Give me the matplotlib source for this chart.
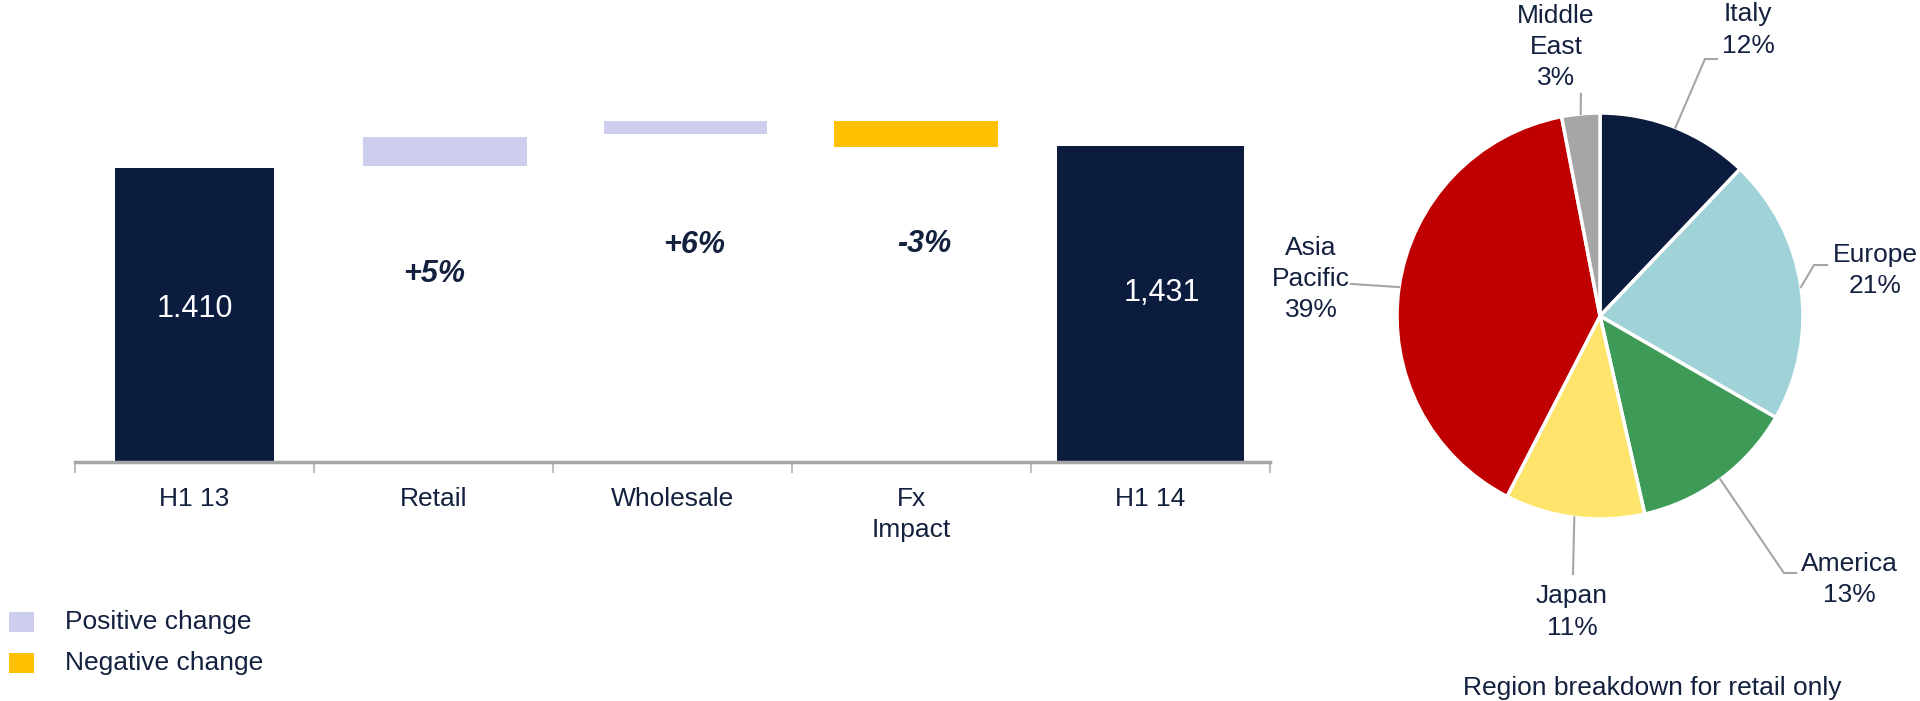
import numpy as np
import matplotlib
matplotlib.use("Agg")
import matplotlib.pyplot as plt
from matplotlib.patches import Rectangle

plt.rcParams['font.family'] = ['Liberation Sans', 'DejaVu Sans']

NAVY = '#0C1C3F'
TEXT = '#13213F'
POS = '#CDCDEE'
NEG = '#FFC000'
GREY = '#A6A6A6'
FS = 19

# waterfall data (axis floor at 1125)
categories = ["H1 13", "Retail", "Wholesale", "Fx\nImpact", "H1 14"]
step_start = [0, 1412, 1443, 1455, 0]
step_end = [1410, 1440, 1455, 1430, 1431]
total_labels = ["1.410", "", "", "", "1,431"]
change_labels = ["", "+5%", "+6%", "-3%", ""]

# pie data
regions = ["Italy", "Europe", "America", "Japan", "Asia\nPacific", "Middle\nEast"]
shares = [12, 21, 13, 11, 39, 3]
region_colors = ['#0C1C3F', '#A0D3D8', '#3E9B57', '#FFE46B', '#C00000', '#A6A6A6']

fig = plt.figure(figsize=(19.2, 7.01), dpi=100)

# ---- waterfall ----
ylo = 1125
ax = fig.add_axes([75 / 1920, 239 / 701, 1195 / 1920, 362 / 701])
x = np.arange(len(categories)) + np.array([0, 0.05, 0.055, 0.02, 0])
widths = [0.665, 0.686, 0.68, 0.686, 0.78]
colors = []
for s, e in zip(step_start, step_end):
    if s == 0:
        colors.append(NAVY)
    elif e >= s:
        colors.append(POS)
    else:
        colors.append(NEG)
bottoms = [min(s, e) for s, e in zip(step_start, step_end)]
heights = [abs(e - s) for s, e in zip(step_start, step_end)]
ax.bar(x, heights, bottom=bottoms, width=widths, color=colors, linewidth=0)

# label offsets in points (layout only)
total_off = [(0, 4), None, None, None, (8, 8)]
change_off = [None, (-8, -78), (6, -80), (6, -70), None]
for i in range(len(categories)):
    if total_labels[i]:
        mid = (ylo + step_end[i]) / 2
        ax.annotate(total_labels[i], (x[i], mid), xytext=total_off[i],
                    textcoords='offset points', ha='center', va='center',
                    color='white', fontsize=22)
    if change_labels[i]:
        ax.annotate(change_labels[i], (x[i], bottoms[i]), xytext=change_off[i],
                    textcoords='offset points', ha='center', va='center',
                    color=TEXT, fontsize=22, fontweight='bold', fontstyle='italic')

ax.set_xlim(-0.5, 4.5)
ax.set_ylim(ylo, ylo + 362 * 0.9684)
ax.set_xticks(np.arange(len(categories)), categories)
ax.set_xticks(np.arange(-0.5, 5, 1), minor=True)
ax.tick_params(axis='x', which='major', length=0, pad=18, labelsize=FS, labelcolor=TEXT)
ax.tick_params(axis='x', which='minor', length=8, width=1.5, color='#BFBFBF')
for lbl in ax.get_xticklabels():
    lbl.set_linespacing(1.375)
ax.set_yticks([])
for side in ['top', 'left', 'right']:
    ax.spines[side].set_visible(False)
ax.spines['bottom'].set_color(GREY)
ax.spines['bottom'].set_linewidth(2.5)

# legend
for yy, col, txt in [(622, POS, "Positive change"), (663, NEG, "Negative change")]:
    fig.add_artist(Rectangle((9 / 1920, 1 - (yy + 10) / 701), 25 / 1920, 20 / 701,
                             transform=fig.transFigure, color=col, linewidth=0))
    fig.text(65 / 1920, 1 - yy / 701, txt, ha='left', va='center', fontsize=FS, color=TEXT)

# ---- pie ----
pax = fig.add_axes([1397 / 1920, 182 / 701, 406 / 1920, 406 / 701])
wedges, _ = pax.pie(shares, colors=region_colors, startangle=90, counterclock=False,
                    wedgeprops=dict(edgecolor='white', linewidth=2.5))
pax.set_xlim(-1, 1)
pax.set_ylim(-1, 1)

label_layout = [
    ((0.729, 1.409), [(0.517, 1.266), (0.576, 1.266)]),
    ((1.355, 0.222), [(1.054, 0.251), (1.119, 0.251)]),
    ((1.227, -1.300), [(0.906, -1.266), (0.966, -1.266)]),
    ((-0.138, -1.458), [(-0.133, -1.271)]),
    ((-1.424, 0.182), [(-1.227, 0.158)]),
    ((-0.217, 1.325), [(-0.094, 1.094)]),
]
for w, name, val, (txy, path) in zip(wedges, regions, shares, label_layout):
    ang = np.deg2rad((w.theta1 + w.theta2) / 2)
    pts = [(np.cos(ang), np.sin(ang))] + path
    px, py = zip(*pts)
    pax.plot(px, py, color=GREY, lw=1.5, clip_on=False)
    pax.text(txy[0], txy[1], f"{name}\n{val}%", ha='center', va='center',
             fontsize=FS, color=TEXT, linespacing=1.375, clip_on=False)

fig.text(1652 / 1920, 1 - 688 / 701, "Region breakdown for retail only",
         ha='center', va='center', fontsize=FS, color=TEXT)

fig.savefig('out.png', dpi=100)
